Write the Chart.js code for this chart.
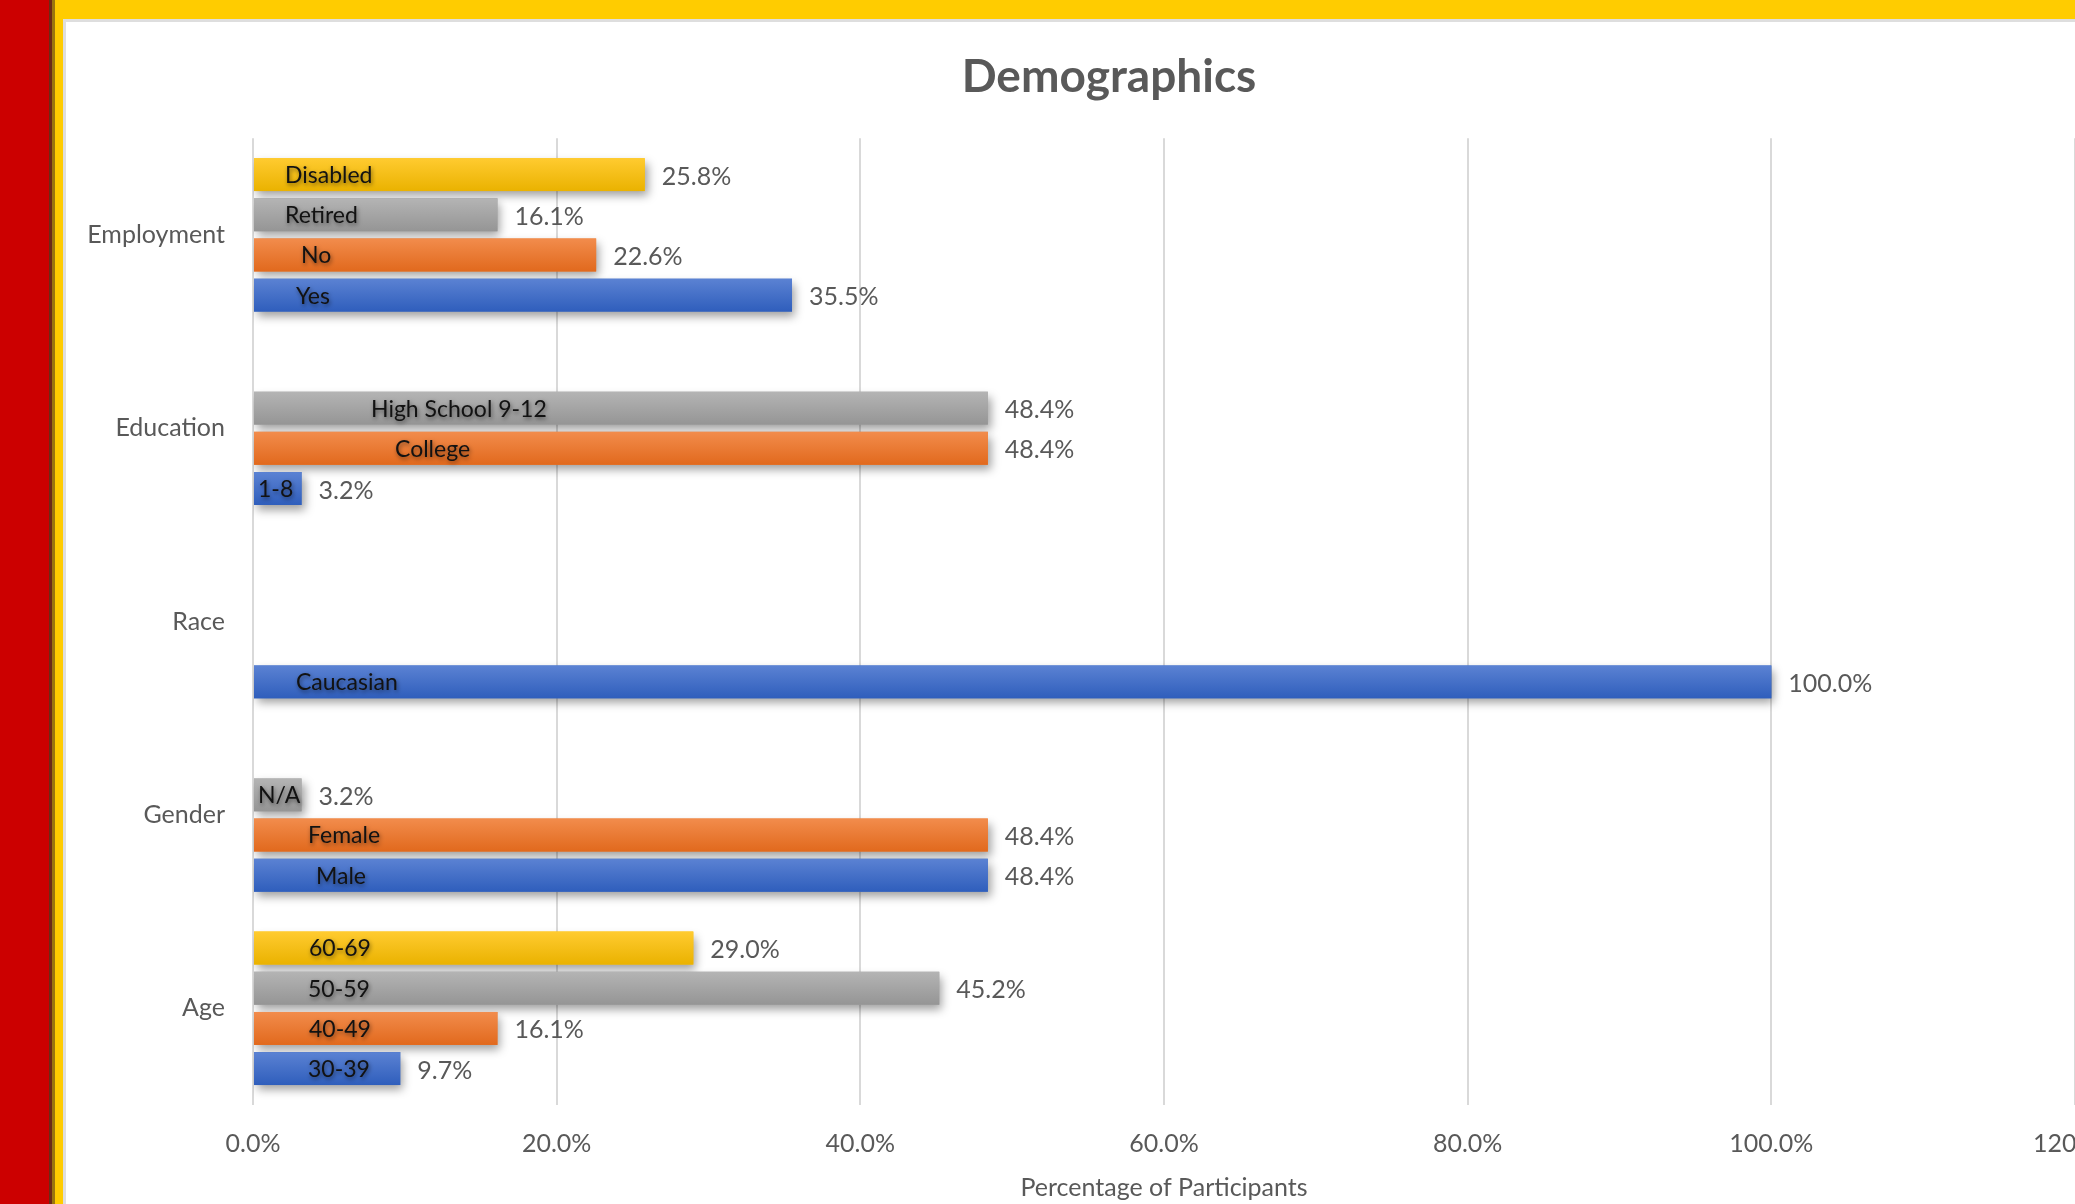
<!DOCTYPE html>
<html>
<head>
<meta charset="utf-8">
<title>Demographics</title>
<script src="https://cdn.jsdelivr.net/npm/chart.js@4.4.1/dist/chart.umd.min.js"></script>
<style>
  html, body { margin: 0; padding: 0; width: 2075px; height: 1204px; overflow: hidden; background: #ffffff; }
  .strip { position: absolute; top: 0; }
  #red { left: 0; width: 49px; height: 1204px; background: #cc0000; }
  #brown { left: 49px; width: 3px; height: 1204px; background: #6b2c17; }
  #olive { left: 52px; width: 3px; height: 1204px; background: #9a760f; }
  #gold-left { left: 55px; width: 8px; height: 1204px; background: #ffcc00; }
  #gold-top { left: 55px; width: 2020px; height: 19px; background: #ffcc00; }
  #panel { position: absolute; left: 63px; top: 19px; width: 2200px; height: 1300px; background: #ffffff;
           border-left: 3px solid #dedede; border-top: 3px solid #dedede; }
  #chart { position: absolute; left: 0; top: 0; }
</style>
</head>
<body>
<div class="strip" id="red"></div>
<div class="strip" id="brown"></div>
<div class="strip" id="olive"></div>
<div class="strip" id="gold-left"></div>
<div class="strip" id="gold-top"></div>
<div id="panel"><canvas id="chart" width="2090" height="1198"></canvas></div>
<script>
// Survey groups, top to bottom
const categories = ['Employment', 'Education', 'Race', 'Gender', 'Age'];

// Percentage of participants per answer (null = no answer in that slot)
const blueValues   = [35.5, 3.2, 100.0, 48.4, 9.7];
const orangeValues = [22.6, 48.4, null, 48.4, 16.1];
const grayValues   = [16.1, 48.4, null, 3.2, 45.2];
const yellowValues = [25.8, null, null, null, 29.0];

// Answer names printed inside each bar
const blueNames   = ['Yes', '1-8', 'Caucasian', 'Male', '30-39'];
const orangeNames = ['No', 'College', '', 'Female', '40-49'];
const grayNames   = ['Retired', 'High School 9-12', '', 'N/A', '50-59'];
const yellowNames = ['Disabled', '', '', '', '60-69'];

// Value axis ticks (percent)
const xTicks = [0, 20, 40, 60, 80, 100, 120];

// Layout: how far each in-bar name sits from the bar's base, in px
const nameInsets = {
  blue:   [42, 4, 42, 62, 54],
  orange: [47, 141, 0, 54, 55],
  gray:   [31, 117, 0, 4, 54],
  yellow: [31, 0, 0, 0, 55]
};

const shades = {
  blue:   { base: '#4472c4', top: '#5b82d3', bottom: '#2f5ebc' },
  orange: { base: '#ed7d31', top: '#f28c4c', bottom: '#e1691d' },
  gray:   { base: '#a5a5a5', top: '#b4b4b4', bottom: '#959595' },
  yellow: { base: '#ffc000', top: '#ffcb30', bottom: '#eab200' }
};

function series(key, label, values, names) {
  return {
    label: label,
    data: values,
    names: names,
    insets: nameInsets[key],
    shade: shades[key],
    backgroundColor: shades[key].base,
    borderWidth: 0
  };
}

// The title is centred on the whole chart panel, which runs past the plot's right padding
const titleCentrePlugin = {
  id: 'titleCentre',
  afterLayout(chart) {
    if (chart.titleBlock) {
      chart.titleBlock.left = 0;
      chart.titleBlock.right = chart.width - 4;
    }
  }
};

// Bars with a soft drop shadow, a vertical sheen, the answer name inside and the value outside
const barStylePlugin = {
  id: 'barStyle',
  beforeDatasetsDraw(chart) {
    const ctx = chart.ctx;
    ctx.save();
    ctx.shadowColor = 'rgba(0,0,0,0.38)';
    ctx.shadowBlur = 9;
    ctx.shadowOffsetX = 3;
    ctx.shadowOffsetY = 5;
  },
  afterDatasetsDraw(chart) {
    const ctx = chart.ctx;
    ctx.restore();
    chart.data.datasets.forEach((ds, di) => {
      const meta = chart.getDatasetMeta(di);
      meta.data.forEach((bar, i) => {
        const v = ds.data[i];
        if (v === null || v === undefined) return;
        const p = bar.getProps(['x', 'y', 'base', 'height'], true);
        const top = p.y - p.height / 2;
        const g = ctx.createLinearGradient(0, top, 0, top + p.height);
        g.addColorStop(0, ds.shade.top);
        g.addColorStop(1, ds.shade.bottom);
        ctx.fillStyle = g;
        ctx.fillRect(Math.min(p.base, p.x), top, Math.abs(p.x - p.base), p.height);

        // value at the outer end
        ctx.save();
        ctx.font = '25px Lato';
        ctx.fillStyle = '#595959';
        ctx.textAlign = 'left';
        ctx.textBaseline = 'middle';
        ctx.fillText(v.toFixed(1) + '%', p.x + 17, p.y + 2);
        ctx.restore();

        // answer name inside the bar
        const name = ds.names[i];
        if (name) {
          ctx.save();
          ctx.font = '23px Lato';
          ctx.fillStyle = '#121212';
          ctx.textAlign = 'left';
          ctx.textBaseline = 'middle';
          ctx.shadowColor = 'rgba(0,0,0,0.5)';
          ctx.shadowBlur = 4;
          ctx.shadowOffsetX = 1;
          ctx.shadowOffsetY = 2;
          ctx.fillText(name, p.base + ds.insets[i], p.y + 1);
          ctx.restore();
        }
      });
    });
  }
};

Chart.defaults.font.family = 'Lato';

new Chart(document.getElementById('chart'), {
  type: 'bar',
  data: {
    labels: categories,
    // listed top slot first within each group
    datasets: [
      series('yellow', 'Series 4', yellowValues, yellowNames),
      series('gray', 'Series 3', grayValues, grayNames),
      series('orange', 'Series 2', orangeValues, orangeNames),
      series('blue', 'Series 1', blueValues, blueNames)
    ]
  },
  options: {
    responsive: false,
    animation: false,
    devicePixelRatio: 1,
    indexAxis: 'y',
    layout: { padding: { left: 0, right: 81, top: 0, bottom: 0 } },
    datasets: { bar: { categoryPercentage: 0.831, barPercentage: 0.82 } },
    plugins: {
      legend: { display: false },
      tooltip: { enabled: false },
      title: {
        display: true,
        text: 'Demographics',
        color: '#595959',
        font: { family: 'Lato', size: 46, weight: 'bold' },
        padding: { top: 28, bottom: 33 }
      }
    },
    scales: {
      x: {
        min: 0,
        max: 120,
        afterBuildTicks: s => { s.ticks = xTicks.map(v => ({ value: v })); },
        grid: { color: '#d9d9d9', lineWidth: 2, drawTicks: false },
        border: { display: false },
        ticks: {
          color: '#595959',
          font: { family: 'Lato', size: 25 },
          padding: 24,
          callback: v => Number(v).toFixed(1) + '%'
        },
        title: {
          display: true,
          text: 'Percentage of Participants',
          color: '#595959',
          font: { family: 'Lato', size: 25 },
          padding: { top: 0, bottom: 17 }
        },
        afterFit: s => { s.height = 115; }
      },
      y: {
        grid: { display: false, drawTicks: false },
        border: { display: false },
        ticks: { color: '#595959', font: { family: 'Lato', size: 25 }, padding: 28 },
        afterFit: s => { s.width = 187; }
      }
    }
  },
  plugins: [titleCentrePlugin, barStylePlugin]
});
</script>
</body>
</html>
